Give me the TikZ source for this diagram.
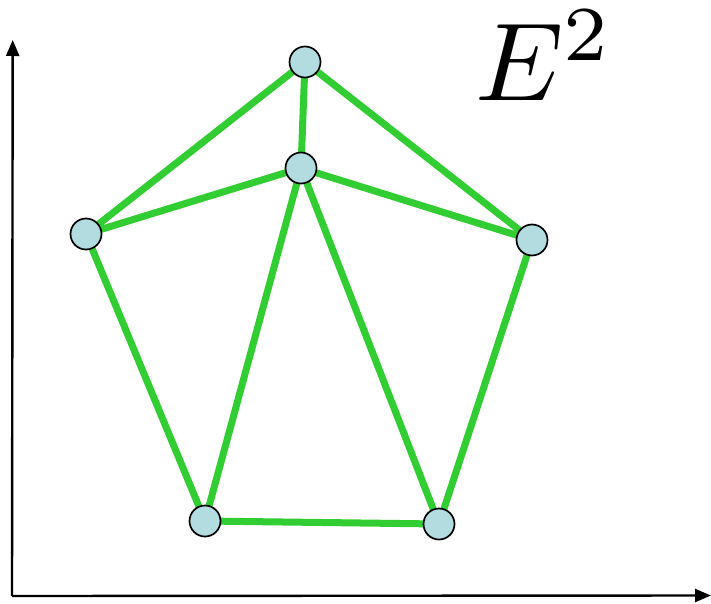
\documentclass[tikz,border=0pt]{standalone}
\usepackage{graphicx}
\usetikzlibrary{arrows.meta}
\definecolor{edgegreen}{RGB}{50,205,50}
\definecolor{vfill}{RGB}{178,220,224}
\pgfdeclarelayer{background}
\pgfsetlayers{background,main}
\begin{document}
\begin{tikzpicture}[x=1pt,y=-1pt,
  vert/.style={circle,draw=black,line width=1.7pt,fill=vfill,minimum size=31pt,inner sep=0pt},
  edge/.style={edgegreen,line width=7pt},
  axis/.style={black,line width=2.4pt,-{Triangle[width=13pt,length=16pt]}}]
\useasboundingbox (0,0) rectangle (711,604);
\coordinate (O) at (12,596);
\coordinate (Y) at (12.7,40);
\coordinate (X) at (711,595.5);
\draw[axis] (O) -- (Y);
\draw[axis] (O) -- (X);
\node[vert] (t) at (305,62) {};
\node[vert] (c) at (301,168) {};
\node[vert] (l) at (86,234) {};
\node[vert] (r) at (532,240) {};
\node[vert] (bl) at (205,521) {};
\node[vert] (br) at (439,524) {};
\begin{pgfonlayer}{background}
\draw[edge] (t.center) -- (l.center) (t.center) -- (c.center) (t.center) -- (r.center)
  (c.center) -- (l.center) (c.center) -- (r.center)
  (l.center) -- (bl.center) (c.center) -- (bl.center) (c.center) -- (br.center)
  (r.center) -- (br.center) (bl.center) -- (br.center);
\end{pgfonlayer}
\node[anchor=base west,inner sep=0pt] (lab) at (475,101) {\scalebox{11.1}{$E^2$}};
\end{tikzpicture}
\end{document}
